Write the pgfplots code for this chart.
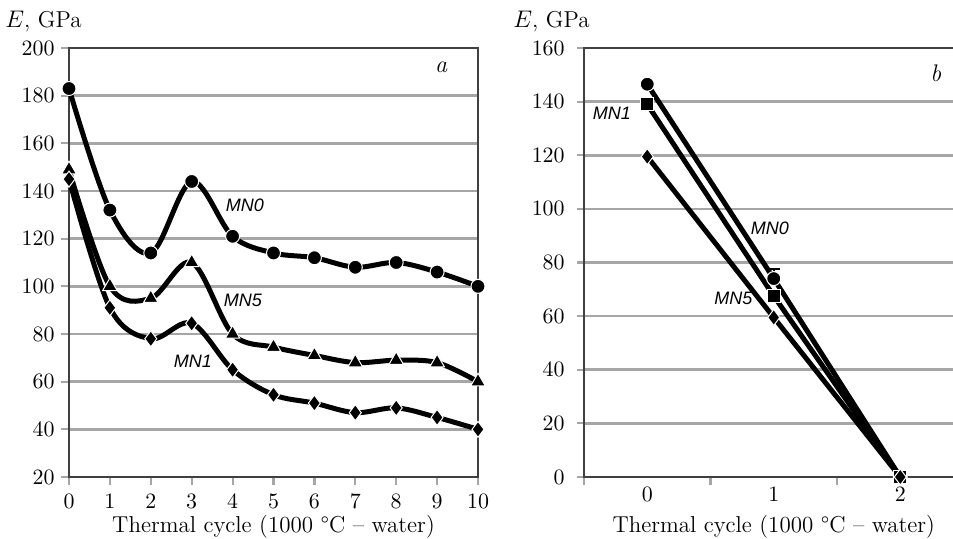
\documentclass[border=0pt]{standalone}
\usepackage{pgfplots}
\pgfplotsset{compat=1.18}
\usepackage{fontspec}
\newfontfamily\lab{Liberation Sans}
\definecolor{gridc}{HTML}{A6A6A6}
\definecolor{axc}{HTML}{404040}
\pgfplotsset{
  common/.style={
    scale only axis, clip=false,
    axis line style={axc, line width=0.8pt},
    ymajorgrids, grid style={gridc, line width=1.3pt},
    xtick pos=bottom, ytick pos=left,
    tick align=outside, major tick length=3.75pt,
    tick style={gridc, line width=1.1pt},
    tick label style={font=\fontsize{11}{13}\selectfont},
    yticklabel style={inner xsep=0.5pt},
    xticklabel style={yshift=-1.5pt},
    xlabel style={font=\fontsize{11.5}{13}\selectfont, at={(0.5,0)}, anchor=north, yshift=-15.5pt},
    every axis plot/.append style={line width=2.5pt, black},
  },
  mkc/.style={mark=*, mark size=3.5pt, mark options={fill=black, draw=white, line width=0.5pt}},
  mkt/.style={mark=triangle*, mark size=4.2pt, mark options={fill=black, draw=white, line width=0.5pt}},
  mkd/.style={mark=diamond*, mark size=4pt, mark options={fill=black, draw=white, line width=0.5pt}},
  mks/.style={mark=square*, mark size=3.2pt, mark options={fill=black, draw=white, line width=0.5pt}},
}
\begin{document}
\begin{tikzpicture}
\useasboundingbox (0,0) rectangle (476.5pt,269pt);
\begin{axis}[common,
  at={(34.5pt,30.5pt)}, anchor=south west,
  width=204.5pt, height=214.5pt,
  xmin=0, xmax=10, ymin=20, ymax=200,
  xtick={0,...,10}, ytick={20,40,...,200},
  yticklabel style={xshift=-2.75pt},
  xlabel={Thermal cycle (1000 °C -- water)},
]
\addplot[smooth, tension=0.55, mkc] coordinates {(0,183) (1,132) (2,114) (3,144) (4,121) (5,114) (6,112) (7,108) (8,110) (9,106) (10,100)};
\addplot[smooth, tension=0.55, mkt] coordinates {(0,149) (1,100) (2,95) (3,110) (4,80) (5,74.5) (6,71) (7,68) (8,69) (9,68) (10,60)};
\addplot[smooth, tension=0.55, mkd] coordinates {(0,145) (1,91) (2,78) (3,84.5) (4,65) (5,54.5) (6,51) (7,47) (8,49) (9,45) (10,40)};
\node[font=\lab\itshape\fontsize{9}{10}\selectfont] at (axis cs:4.3,134) {MN0};
\node[font=\lab\itshape\fontsize{9}{10}\selectfont] at (axis cs:4.25,94) {MN5};
\node[font=\lab\itshape\fontsize{9}{10}\selectfont] at (axis cs:3.03,68.6) {MN1};
\node[font=\large\itshape] at (axis cs:9.1,192) {a};
\end{axis}
\node[font=\fontsize{11.5}{13}\selectfont] at (21.75pt,258pt) {$E$, GPa};
\begin{axis}[common,
  at={(292pt,30.5pt)}, anchor=south west,
  width=189.75pt, height=214.5pt,
  xmin=-0.5, xmax=2.5, ymin=0, ymax=160,
  xtick={-0.5,0.5,1.5,2.5}, xticklabels={},
  extra x ticks={0,1,2}, extra x tick style={major tick length=0pt, grid=none},
  ytick={0,20,...,160},
  yticklabel style={xshift=-5.25pt},
  xlabel={Thermal cycle (1000 °C -- water)},
]
\addplot[mkc, error bars/.cd, y dir=plus, y explicit, error bar style={line width=0.8pt}, error mark options={rotate=90, mark size=3pt, line width=0.8pt}]
  coordinates {(0,146.5) (1,74) +- (0,3.5) (2,0)};
\addplot[mks] coordinates {(0,139) (1,67.5) (2,0)};
\addplot[mkd] coordinates {(0,119.5) (1,59.5) (2,0)};
\node[font=\lab\itshape\fontsize{9}{10}\selectfont] at (axis cs:-0.28,135.8) {MN1};
\node[font=\lab\itshape\fontsize{9}{10}\selectfont] at (axis cs:0.97,92.9) {MN0};
\node[font=\lab\itshape\fontsize{9}{10}\selectfont] at (axis cs:0.68,66.7) {MN5};
\node[font=\large\itshape] at (axis cs:2.28,150.5) {b};
\end{axis}
\node[font=\fontsize{11.5}{13}\selectfont] at (275.75pt,258pt) {$E$, GPa};
\end{tikzpicture}
\end{document}
